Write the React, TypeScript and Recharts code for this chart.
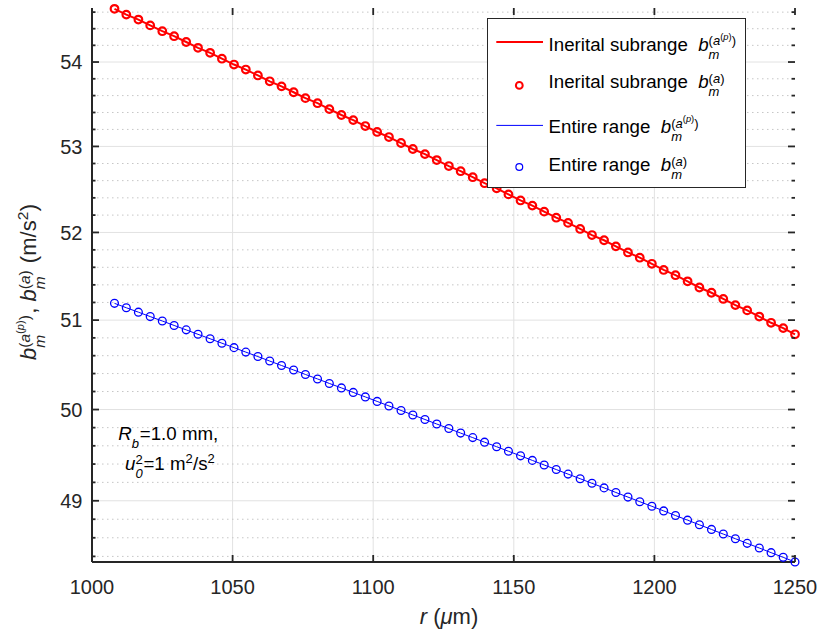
import React from 'react';
import { LineChart, Line, XAxis, YAxis, CartesianGrid, Legend } from 'recharts';

// radial position r (um)
const rValues = [
  1008.0, 1012.2, 1016.5, 1020.7, 1025.0, 1029.2, 1033.5, 1037.7, 1042.0, 1046.2,
  1050.5, 1054.7, 1059.0, 1063.2, 1067.4, 1071.7, 1075.9, 1080.2, 1084.4, 1088.7,
  1092.9, 1097.2, 1101.4, 1105.6, 1109.9, 1114.1, 1118.4, 1122.6, 1126.9, 1131.1,
  1135.4, 1139.6, 1143.9, 1148.1, 1152.4, 1156.6, 1160.8, 1165.1, 1169.3, 1173.6,
  1177.8, 1182.1, 1186.3, 1190.6, 1194.8, 1199.1, 1203.3, 1207.5, 1211.8, 1216.0,
  1220.3, 1224.5, 1228.8, 1233.0, 1237.3, 1241.5, 1245.8, 1250.0,
];

// inertial subrange b_m (m/s^2)
const inertial = [
  54.64, 54.57, 54.51, 54.44, 54.37, 54.31, 54.24, 54.17, 54.11, 54.04,
  53.97, 53.91, 53.84, 53.77, 53.71, 53.64, 53.57, 53.51, 53.44, 53.37,
  53.31, 53.24, 53.17, 53.11, 53.04, 52.97, 52.91, 52.84, 52.77, 52.71,
  52.64, 52.57, 52.51, 52.44, 52.37, 52.31, 52.24, 52.17, 52.11, 52.04,
  51.97, 51.91, 51.84, 51.77, 51.71, 51.64, 51.57, 51.51, 51.44, 51.37,
  51.31, 51.24, 51.17, 51.11, 51.04, 50.97, 50.91, 50.84,
];

// entire range b_m (m/s^2)
const entire = [
  51.19, 51.14, 51.09, 51.04, 50.99, 50.94, 50.89, 50.84, 50.79, 50.74,
  50.69, 50.64, 50.59, 50.54, 50.49, 50.44, 50.39, 50.34, 50.29, 50.24,
  50.19, 50.14, 50.09, 50.04, 49.99, 49.94, 49.89, 49.84, 49.79, 49.74,
  49.69, 49.64, 49.59, 49.54, 49.49, 49.44, 49.39, 49.34, 49.29, 49.24,
  49.19, 49.14, 49.09, 49.04, 48.99, 48.94, 48.89, 48.84, 48.79, 48.74,
  48.69, 48.64, 48.59, 48.54, 48.49, 48.44, 48.39, 48.34,
];

const xTicks = [1000, 1050, 1100, 1150, 1200, 1250];
const xGrid = [1050, 1100, 1150, 1200];
const yMajor = [49, 50, 51, 52, 53, 54];
const yMinor = [
  48.4, 48.6, 48.8, 49.2, 49.4, 49.6, 49.8, 50.2, 50.4, 50.6, 50.8,
  51.2, 51.4, 51.6, 51.8, 52.2, 52.4, 52.6, 52.8, 53.2, 53.4, 53.6, 53.8,
  54.2, 54.4, 54.6,
];
const yTicks = [...yMajor, ...yMinor].sort((a, b) => a - b);

const data = rValues.map((r, i) => ({
  r,
  inertialFit: inertial[i],
  inertialPts: inertial[i],
  entireFit: entire[i],
  entirePts: entire[i],
}));

const FONT = '"Liberation Sans", Arial, Helvetica, sans-serif';
const INK = '#262626';
const RED = '#ff0000';
const BLUE = '#0000ff';
const W = 820;
const H = 638;
const PW = 703; // plot width
const PH = 554; // plot height

// stacked sub/superscripts that sit on the parent baseline
function Scr({ sup, sub, w, s, up, down }: any) {
  return (
    <span style={{ display: 'inline-block', position: 'relative', width: w, height: 0, verticalAlign: 'baseline' }}>
      {sup && (
        <span style={{ position: 'absolute', left: 0, bottom: up - 0.1535 * s, fontSize: s, lineHeight: 1, whiteSpace: 'nowrap' }}>
          {sup}
        </span>
      )}
      {sub && (
        <span style={{ position: 'absolute', left: 0, bottom: -down - 0.1535 * s, fontSize: s, lineHeight: 1, whiteSpace: 'nowrap' }}>
          {sub}
        </span>
      )}
    </span>
  );
}

const Inner = ({ children }: any) => (
  <span style={{ fontSize: '0.72em', position: 'relative', top: '-0.55em' }}>{children}</span>
);

const supAP = <>(<i>a</i><Inner>(<i>p</i>)</Inner>)</>;
const supA = <>(<i>a</i>)</>;

function YTick(props: any) {
  const { x, y, payload } = props;
  const v = payload.value;
  const major = yMajor.includes(v);
  const len = major ? 7 : 3.5;
  return (
    <g>
      <line x1={x} x2={x + len} y1={y} y2={y} stroke={INK} strokeWidth={1.8} />
      <line x1={x + PW - len} x2={x + PW} y1={y} y2={y} stroke={INK} strokeWidth={1.8} />
      {major && (
        <text x={x - 9.5} y={y + 7.2} textAnchor="end" fontSize={20} fill={INK} fontFamily={FONT}>
          {v}
        </text>
      )}
    </g>
  );
}

function XTick(props: any) {
  const { x, y, payload } = props;
  return (
    <g>
      <line x1={x} x2={x} y1={y} y2={y - 7} stroke={INK} strokeWidth={1.8} />
      <line x1={x} x2={x} y1={y - PH} y2={y - PH + 7} stroke={INK} strokeWidth={1.8} />
      <text x={x} y={y + 32} textAnchor="middle" fontSize={20} fill={INK} fontFamily={FONT}>
        {payload.value}
      </text>
    </g>
  );
}

const legendRows = [
  { label: 'Inerital subrange', sup: supAP, kind: 'line', color: RED, width: 2, mark: 24, base: 33.4 },
  { label: 'Inerital subrange', sup: supA, kind: 'dot', color: RED, width: 2, mark: 67.4, base: 71 },
  { label: 'Entire range', sup: supAP, kind: 'line', color: BLUE, width: 1, mark: 107.4, base: 115.7 },
  { label: 'Entire range', sup: supA, kind: 'dot', color: BLUE, width: 1.2, mark: 149, base: 154 },
];

function LegendBox() {
  const fs = 18.7;
  return (
    <div style={{ position: 'relative', width: 259, height: 170, boxSizing: 'border-box', border: `1px solid ${INK}`, background: '#fff', fontFamily: FONT, color: '#000' }}>
      <svg width={259} height={170} style={{ position: 'absolute', left: -1, top: -1 }}>
        {legendRows.map((row, i) =>
          row.kind === 'line' ? (
            <line key={i} x1={9.3} x2={56} y1={row.mark} y2={row.mark} stroke={row.color} strokeWidth={row.width} />
          ) : (
            <circle key={i} cx={32.3} cy={row.mark} r={3.4} fill="none" stroke={row.color} strokeWidth={row.width} />
          )
        )}
      </svg>
      {legendRows.map((row, i) => (
        <div key={i} style={{ position: 'absolute', left: 60.6, top: row.base - 1 - 0.8465 * fs, fontSize: fs, lineHeight: 1, whiteSpace: 'pre' }}>
          {row.label + '  '}
          <i>b</i>
          <Scr sup={row.sup} sub={<i>m</i>} w={30} s={13} up={5} down={8.3} />
        </div>
      ))}
    </div>
  );
}

export default function App() {
  return (
    <div style={{ position: 'absolute', left: 0, top: 0, width: W, height: H, background: '#fff', fontFamily: FONT }}>
      <LineChart width={W} height={H} data={data} margin={{ top: 8, right: 25, bottom: 0, left: 0 }}>
        <CartesianGrid horizontalValues={yMajor} verticalValues={xGrid} stroke="#e2e2e2" strokeWidth={1} />
        <CartesianGrid horizontalValues={yMinor} vertical={false} stroke="#c6c6c6" strokeDasharray="1.5 3.5" strokeWidth={1} />
        <XAxis
          dataKey="r" type="number" domain={[1000, 1250]} ticks={xTicks} interval={0}
          height={76} tickSize={0} tickMargin={0} tickLine={false}
          axisLine={{ stroke: INK, strokeWidth: 2 }} tick={<XTick />}
        />
        <XAxis
          xAxisId="top" orientation="top" dataKey="r" type="number" domain={[1000, 1250]}
          height={0} tick={false} tickLine={false} axisLine={{ stroke: INK, strokeWidth: 2 }}
        />
        <YAxis
          type="number" scale="log" domain={[48.34, 54.65]} ticks={yTicks} interval={0}
          width={92} tickSize={0} tickMargin={0} tickLine={false}
          axisLine={{ stroke: INK, strokeWidth: 2 }} tick={<YTick />}
        />
        <YAxis
          yAxisId="right" orientation="right" type="number" scale="log" domain={[48.34, 54.65]}
          width={0} tick={false} tickLine={false} axisLine={{ stroke: INK, strokeWidth: 2 }}
        />
        <Legend
          layout="vertical" align="center" verticalAlign="middle"
          wrapperStyle={{ left: 487, top: 18, width: 259, height: 170 }}
          content={() => <LegendBox />}
        />
        <Line dataKey="entireFit" stroke={BLUE} strokeWidth={1} dot={false} activeDot={false} isAnimationActive={false} />
        <Line dataKey="entirePts" stroke="none" strokeWidth={0} activeDot={false}
          dot={{ r: 3.9, stroke: BLUE, strokeWidth: 1.3, fill: 'none' }} isAnimationActive={false} />
        <Line dataKey="inertialFit" stroke={RED} strokeWidth={2} dot={false} activeDot={false} isAnimationActive={false} />
        <Line dataKey="inertialPts" stroke="none" strokeWidth={0} activeDot={false}
          dot={{ r: 3.8, stroke: RED, strokeWidth: 2.2, fill: 'none' }} isAnimationActive={false} />
      </LineChart>

      {/* y label */}
      <div style={{ position: 'absolute', left: 37, top: 282, width: 0, height: 0 }}>
        <div style={{ position: 'absolute', left: 0, top: 0, transformOrigin: '0 0', transform: 'rotate(-90deg) translate(-50%, -18.6px)', fontSize: 22, lineHeight: 1, whiteSpace: 'pre', color: INK }}>
          <i>b</i>
          <Scr sup={supAP} sub={<i>m</i>} w={34} s={15.5} up={6} down={9.5} />
          {', '}
          <i>b</i>
          <Scr sup={supA} sub={<i>m</i>} w={20} s={15.5} up={6} down={9.5} />
          {' (m/s'}
          <Scr sup="2" w={9} s={15.5} up={8} />
          {')'}
        </div>
      </div>

      {/* x label */}
      <div style={{ position: 'absolute', left: 449, top: 625 - 18.6, transform: 'translateX(-50%)', fontSize: 22, lineHeight: 1, whiteSpace: 'pre', color: INK }}>
        <i>r</i> (<i>μ</i>m)
      </div>

      {/* annotation */}
      <div style={{ position: 'absolute', left: 118.3, top: 440.7 - 0.8465 * 18.7, fontSize: 18.7, lineHeight: 1, whiteSpace: 'pre', color: '#000' }}>
        <i>R</i>
        <Scr sub={<i>b</i>} w={8} s={13} down={8.5} />
        =1.0 mm,
      </div>
      <div style={{ position: 'absolute', left: 125, top: 471 - 0.8465 * 18.7, fontSize: 18.7, lineHeight: 1, whiteSpace: 'pre', color: '#000' }}>
        <i>u</i>
        <Scr sup="2" sub={<i>0</i>} w={8} s={13} up={6} down={8} />
        =1 m
        <Scr sup="2" w={7.5} s={13} up={7} />
        /s
        <Scr sup="2" w={7.5} s={13} up={7} />
      </div>
    </div>
  );
}
